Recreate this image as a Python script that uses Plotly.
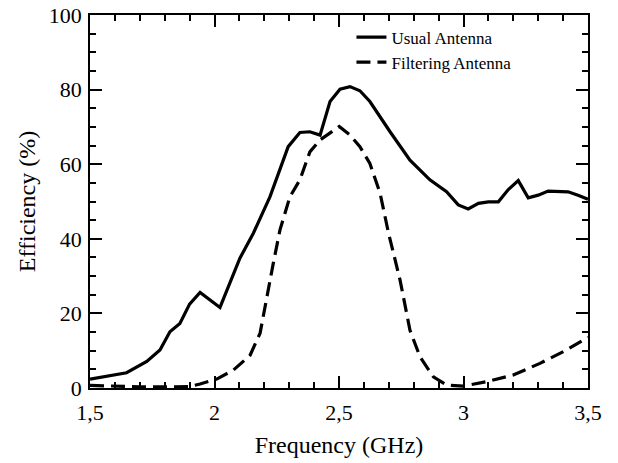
import plotly.graph_objects as go

freq_usual = [1.5, 1.6, 1.647, 1.728, 1.781, 1.821, 1.861, 1.90, 1.942, 2.022, 2.062, 2.102, 2.156,
              2.223, 2.296, 2.343, 2.383, 2.424, 2.464, 2.504, 2.544, 2.584, 2.624, 2.705, 2.785,
              2.865, 2.932, 2.979, 3.019, 3.06, 3.1, 3.14, 3.18, 3.22, 3.26, 3.3, 3.34, 3.42, 3.46, 3.5]
eff_usual = [2.4, 3.7, 4.1, 7.1, 10.2, 15.1, 17.3, 22.5, 25.6, 21.6, 28.1, 34.8, 41.5,
             51.3, 64.7, 68.5, 68.7, 67.8, 76.8, 80.1, 80.8, 79.7, 76.8, 68.7, 61.1,
             55.8, 52.6, 49.1, 48.0, 49.5, 49.9, 49.9, 53.2, 55.6, 51.0, 51.7, 52.8, 52.6, 51.7, 50.6]

freq_filter = [1.5, 1.6, 1.7, 1.8, 1.9, 1.942, 2.009, 2.076, 2.143, 2.183, 2.21, 2.236, 2.263,
               2.303, 2.343, 2.383, 2.424, 2.464, 2.501, 2.544, 2.584, 2.624, 2.665, 2.699,
               2.745, 2.785, 2.825, 2.879, 2.932, 2.999, 3.093, 3.2, 3.307, 3.414, 3.5]
eff_filter = [0.7, 0.4, 0.3, 0.3, 0.4, 1.07, 2.4, 4.8, 8.8, 14.7, 24.5, 33.4, 42.4,
              51.3, 55.8, 63.3, 66.5, 68.3, 70.1, 67.8, 64.7, 60.2, 52.2, 41.5,
              29.0, 15.5, 8.4, 3.0, 0.8, 0.5, 1.7, 3.5, 6.6, 10.2, 13.6]

# tick labels (rendered as 1,5 / 2 / 2,5 / 3 / 3,5 via comma decimal separator)
x_tickvals = [1.5, 2, 2.5, 3, 3.5]
y_tickvals = [0, 20, 40, 60, 80, 100]
x_range = [1.5, 3.5]
y_range = [0, 100]

font_family = "Liberation Serif"

fig = go.Figure()
fig.add_trace(go.Scatter(x=freq_usual, y=eff_usual, mode="lines", name="Usual Antenna",
                         line=dict(color="black", width=3.2)))
fig.add_trace(go.Scatter(x=freq_filter, y=eff_filter, mode="lines", name="Filtering Antenna",
                         line=dict(color="black", width=3.2, dash="14px,7px")))

tick_common = dict(ticks="inside", ticklen=12, tickwidth=2, tickcolor="black", mirror="ticks",
                   showgrid=False, zeroline=False, showline=True, linecolor="black", linewidth=1.5,
                   automargin=False)

fig.update_layout(
    width=618, height=463,
    margin=dict(l=90, r=30, t=15, b=75),
    plot_bgcolor="white", paper_bgcolor="white",
    separators=", ",
    font=dict(family=font_family, color="black"),
    xaxis=dict(range=x_range, tickmode="linear", tick0=x_tickvals[0], dtick=x_tickvals[1] - x_tickvals[0],
               minor=dict(ticks="inside", ticklen=6, dtick=0.1, tickcolor="black", tickwidth=2),
               tickfont=dict(family=font_family, size=22, color="black"), ticklabelstandoff=4,
               title=dict(text="Frequency (GHz)", font=dict(family=font_family, size=24, color="black"),
                          standoff=12),
               **tick_common),
    yaxis=dict(range=y_range, tickmode="linear", tick0=y_tickvals[0], dtick=y_tickvals[1] - y_tickvals[0],
               minor=dict(ticks="inside", ticklen=6, dtick=5, tickcolor="black", tickwidth=2),
               tickfont=dict(family=font_family, size=22, color="black"), ticklabelstandoff=2,
               title=dict(text="Efficiency (%)", font=dict(family=font_family, size=24, color="black"),
                          standoff=6),
               **tick_common),
    legend=dict(x=0.525, y=0.988, xanchor="left", yanchor="top",
                font=dict(family=font_family, size=17, color="black"),
                bgcolor="rgba(0,0,0,0)", tracegroupgap=0),
)

fig.write_html("out.html")
